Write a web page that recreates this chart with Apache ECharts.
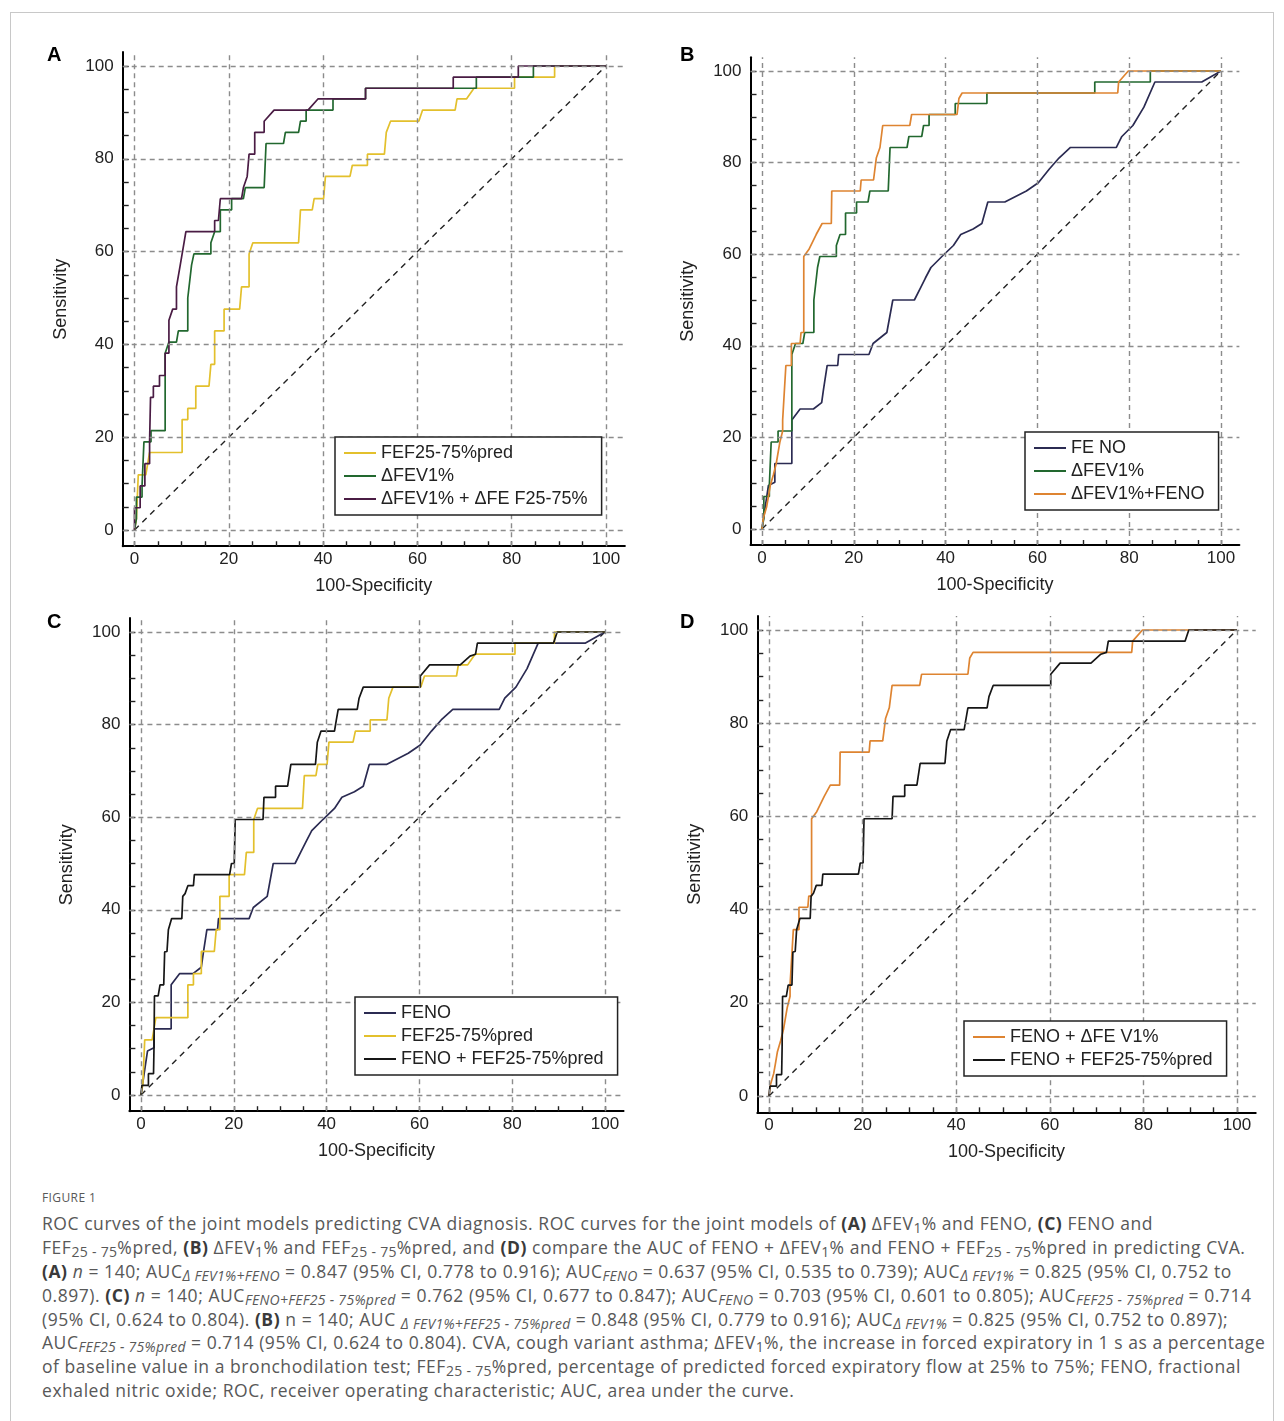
<!DOCTYPE html>
<html>
<head>
<meta charset="utf-8">
<script src="https://cdn.jsdelivr.net/npm/echarts@6/dist/echarts.min.js"></script>
<style>
  html, body { margin: 0; padding: 0; background: #fff; }
  body { width: 1284px; height: 1421px; position: relative; overflow: hidden; }
  #frame { position: absolute; left: 10px; top: 12px; width: 1262px; height: 1500px; border: 1px solid #c8c8c8; }
  #chart { position: absolute; left: 0; top: 0; width: 1284px; height: 1180px; }
  #caption { position: absolute; left: 42px; top: 1187px; font-family: "Open Sans", "Noto Sans", sans-serif; color: #585858; }
  #caption .fig { font-size: 12px; letter-spacing: 0.4px; height: 25px; line-height: 22px; }
  #caption .ln { font-size: 17.5px; letter-spacing: 0.55px; line-height: 23.9px; height: 23.9px; white-space: nowrap; }
  #caption b { color: #3a3a3a; font-weight: 700; }
  #caption sub { font-size: 14px; letter-spacing: 0.3px; line-height: 0; vertical-align: -3px; }
</style>
</head>
<body>
<div id="frame"></div>
<div id="chart"></div>
<div id="caption">
  <div class="fig">FIGURE 1</div>
  <div class="ln">ROC curves of the joint models predicting CVA diagnosis. ROC curves for the joint models of <b>(A)</b> ΔFEV<sub>1</sub>% and FENO, <b>(C)</b> FENO and</div>
  <div class="ln">FEF<sub>25 - 75</sub>%pred, <b>(B)</b> ΔFEV<sub>1</sub>% and FEF<sub>25 - 75</sub>%pred, and <b>(D)</b> compare the AUC of FENO + ΔFEV<sub>1</sub>% and FENO + FEF<sub>25 - 75</sub>%pred in predicting CVA.</div>
  <div class="ln"><b>(A)</b> <i>n</i> = 140; AUC<sub><i>Δ FEV1%+FENO</i></sub> = 0.847 (95% CI, 0.778 to 0.916); AUC<sub><i>FENO</i></sub> = 0.637 (95% CI, 0.535 to 0.739); AUC<sub><i>Δ FEV1%</i></sub> = 0.825 (95% CI, 0.752 to</div>
  <div class="ln">0.897). <b>(C)</b> <i>n</i> = 140; AUC<sub><i>FENO+FEF25 - 75%pred</i></sub> = 0.762 (95% CI, 0.677 to 0.847); AUC<sub><i>FENO</i></sub> = 0.703 (95% CI, 0.601 to 0.805); AUC<sub><i>FEF25 - 75%pred</i></sub> = 0.714</div>
  <div class="ln">(95% CI, 0.624 to 0.804). <b>(B)</b> n = 140; AUC <sub><i>Δ FEV1%+FEF25 - 75%pred</i></sub> = 0.848 (95% CI, 0.779 to 0.916); AUC<sub><i>Δ FEV1%</i></sub> = 0.825 (95% CI, 0.752 to 0.897);</div>
  <div class="ln">AUC<sub><i>FEF25 - 75%pred</i></sub> = 0.714 (95% CI, 0.624 to 0.804). CVA, cough variant asthma; ΔFEV<sub>1</sub>%, the increase in forced expiratory in 1 s as a percentage</div>
  <div class="ln">of baseline value in a bronchodilation test; FEF<sub>25 - 75</sub>%pred, percentage of predicted forced expiratory flow at 25% to 75%; FENO, fractional</div>
  <div class="ln">exhaled nitric oxide; ROC, receiver operating characteristic; AUC, area under the curve.</div>
</div>
<script>
// axis values
var labelValues = [0, 20, 40, 60, 80, 100];
var tickValues = [0, 5, 10, 15, 20, 25, 30, 35, 40, 45, 50, 55, 60, 65, 70, 75, 80, 85, 90, 95, 100];
var diagonal = [[0, 0], [100, 100]];

// ROC curves, [100-specificity, sensitivity]
var fefPred = [[0,0],[0.4,2.4],[0.8,11.9],[2.4,11.9],[3.2,16.7],[10.1,16.7],[10.1,23.8],[11.3,23.8],[11.3,26.2],[13,26.2],[13,31],[15.8,31],[16.2,35.7],[17,35.7],[17,42.9],[19,42.9],[19,47.6],[22.3,47.6],[22.7,52.4],[24.3,52.4],[24.3,59.5],[25.1,61.9],[34.8,61.9],[35.2,69],[37.7,69],[38.1,71.4],[40.1,71.4],[40.5,76.2],[45.7,76.2],[46.2,78.6],[49.4,78.6],[49.4,81],[53,81],[53.4,85.7],[54.3,88.1],[60.3,88.1],[61.1,90.5],[68,90.5],[68.4,92.9],[70.4,92.9],[72,95.2],[80.6,95.2],[80.6,97.6],[89.1,97.6],[89.1,100],[100,100]];
var deltaFev1 = [[0,0],[0.4,2.4],[0.4,7.1],[1.6,7.1],[1.6,9.5],[2,9.5],[2,19],[3.5,19],[3.5,21.4],[6.5,21.4],[6.5,38.1],[7.3,40.5],[8.9,40.5],[9.3,42.9],[11.3,42.9],[11.3,50],[12.1,57.1],[12.6,59.5],[16.2,59.5],[16.2,61.9],[17,64.3],[18.2,64.3],[18.2,69],[20.6,69],[20.6,71.4],[23.1,71.4],[23.5,73.8],[27.5,73.8],[27.9,83.3],[31.6,83.3],[32,85.7],[34.8,85.7],[35.2,88.1],[36.4,88.1],[36.4,90.5],[42.1,90.5],[42.1,92.9],[49,92.9],[49,95.2],[72.5,95.2],[72.5,97.6],[84.6,97.6],[84.6,100],[100,100]];
var fev1PlusFef = [[0,0],[0,4.8],[1.2,4.8],[1.2,9.5],[2.2,9.5],[2.2,14.3],[3.2,14.3],[3.2,19],[3.4,28.6],[4,28.6],[4,31],[5.3,31],[5.3,33.3],[6.5,33.3],[6.5,38.1],[7.3,38.1],[7.3,45.2],[8.1,47.6],[8.9,47.6],[8.9,52.4],[9.7,57.1],[10.5,61.9],[10.9,64.3],[17,64.3],[17,66.7],[17.8,66.7],[18.2,71.4],[22.7,71.4],[23.1,73.8],[23.9,76.2],[24.3,81],[25.5,81],[25.5,85.7],[27.5,85.7],[27.5,88.1],[29.6,90.5],[36.8,90.5],[38.9,92.9],[49,92.9],[49,95.2],[67.6,95.2],[67.6,97.6],[81.4,97.6],[81.4,100],[100,100]];
var feno = [[0,0],[0.7,4.8],[1.4,9.5],[2.8,10.2],[2.8,14.3],[6.5,14.3],[6.5,23.8],[8.3,26.2],[11.2,26.2],[13,27.6],[13.4,30.5],[14.2,35.7],[16.5,35.7],[16.7,38.1],[23.3,38.1],[24.2,40.5],[27.2,42.9],[28.5,50],[33.2,50],[34.4,52.4],[35.6,54.8],[36.8,57.1],[39.2,59.5],[41.7,61.9],[43.3,64.3],[46,65.5],[47.9,66.7],[49.2,71.4],[52.9,71.4],[57.6,73.8],[60.2,75.6],[62.6,78.6],[64.7,81],[67.2,83.3],[77.2,83.3],[78.4,85.7],[80.8,88.1],[83.2,92.1],[85.6,97.6],[95.8,97.6],[100,100]];
var fenoPlusFev1 = [[0,0],[0.3,2.4],[1,4.8],[1.4,7.1],[1.8,9.5],[2.5,11.9],[3.1,14.3],[3.9,19],[4.5,21.4],[4.5,23.8],[5.2,35.7],[6.4,35.7],[6.4,40.5],[8.3,40.5],[8.5,42.9],[9.1,42.9],[9.1,59.5],[10.2,61],[11.8,64.3],[13.1,66.7],[15.1,66.7],[15.2,73.8],[21.4,73.8],[21.6,76.2],[24.3,76.2],[24.9,81],[25.7,83.3],[26.3,88.1],[32.2,88.1],[32.6,90.5],[42.5,90.5],[42.9,94],[43.6,95.2],[77.5,95.2],[77.7,97.6],[79.8,100],[100,100]];
var fenoPlusFef = [[0,0],[0.2,2.1],[1.6,2.1],[1.6,4.6],[2.7,4.6],[2.8,10.2],[2.9,21.4],[3.7,21.4],[4.1,23.8],[4.9,23.8],[5.1,30.9],[5.6,31],[5.9,35.7],[6.6,38.1],[8.8,38.1],[9,42.9],[9.5,43.5],[10.1,45.2],[11.3,45.2],[11.5,47.6],[19.1,47.6],[19.5,50],[20.1,50],[20.3,59.5],[26.3,59.5],[26.5,64.3],[29,64.3],[29,66.7],[31.6,66.7],[32.3,71.4],[37.6,71.4],[38,76.2],[38.8,78.6],[41.7,78.6],[42.1,81],[42.5,83.3],[46.6,83.3],[47,85.7],[47.9,88.1],[60.2,88.1],[60.2,90.5],[62.2,92.9],[68.8,92.9],[70.9,94.8],[72.1,95.2],[72.5,97.6],[88.9,97.6],[89.7,100],[100,100]];

var YELLOW = '#e3c02c', GREEN = '#22682f', PURPLE = '#4a1c44', NAVY = '#2b2b52', ORANGE = '#de8431', BLACK = '#161616';
var FONT = '"Liberation Sans", Arial, sans-serif';

var X_MIN = -2.5, X_MAX = 104, Y_MIN = -3.5, Y_MAX = 103;

// pixel positions of 0 and 100 on each panel, legend box corner
var panels = [
  { letter: 'A', x0: 134.5, x100: 606, y0: 530, y100: 66, legend: [335, 437],
    curves: [['FEF25-75%pred', fefPred, YELLOW], ['ΔFEV1%', deltaFev1, GREEN], ['ΔFEV1% + ΔFE F25-75%', fev1PlusFef, PURPLE]] },
  { letter: 'B', x0: 762, x100: 1221, y0: 529, y100: 71, legend: [1025, 432],
    curves: [['FE NO', feno, NAVY], ['ΔFEV1%', deltaFev1, GREEN], ['ΔFEV1%+FENO', fenoPlusFev1, ORANGE]] },
  { letter: 'C', x0: 141, x100: 605, y0: 1095, y100: 632, legend: [355, 997],
    curves: [['FENO', feno, NAVY], ['FEF25-75%pred', fefPred, YELLOW], ['FENO + FEF25-75%pred', fenoPlusFef, BLACK]] },
  { letter: 'D', x0: 769, x100: 1237, y0: 1096, y100: 630, legend: [964, 1021],
    curves: [['FENO + ΔFE V1%', fenoPlusFev1, ORANGE], ['FENO + FEF25-75%pred', fenoPlusFef, BLACK]] }
];

var chart = echarts.init(document.getElementById('chart'));
var grids = [], xAxes = [], yAxes = [], series = [], legends = [], graphics = [];

panels.forEach(function (p, i) {
  var sx = (p.x100 - p.x0) / 100;
  var sy = (p.y0 - p.y100) / 100;
  grids.push({
    left: p.x0 + X_MIN * sx,
    width: (X_MAX - X_MIN) * sx,
    top: p.y100 - (Y_MAX - 100) * sy,
    height: (Y_MAX - Y_MIN) * sy
  });
  xAxes.push({
    gridIndex: i, type: 'value', min: X_MIN, max: X_MAX,
    name: '100-Specificity', nameLocation: 'middle', nameGap: 31,
    nameTextStyle: { fontSize: 18, color: '#222', fontFamily: FONT },
    axisLine: { show: true, onZero: false, lineStyle: { color: '#000', width: 2 } },
    axisTick: { show: true, inside: true, length: 5, customValues: tickValues, lineStyle: { color: '#222', width: 1.4 } },
    axisLabel: { customValues: labelValues, margin: 5, fontSize: 17, color: '#222', fontFamily: FONT },
    splitLine: { show: false }
  });
  yAxes.push({
    gridIndex: i, type: 'value', min: Y_MIN, max: Y_MAX,
    name: 'Sensitivity', nameLocation: 'middle', nameGap: 53,
    nameTextStyle: { fontSize: 18, color: '#222', fontFamily: FONT },
    axisLine: { show: true, onZero: false, lineStyle: { color: '#000', width: 2 } },
    axisTick: { show: true, inside: true, length: 6, customValues: tickValues, lineStyle: { color: '#222', width: 1.4 } },
    axisLabel: { customValues: labelValues, margin: 9, fontSize: 17, color: '#222', fontFamily: FONT },
    splitLine: { show: false }
  });

  // reference diagonal, carrying the dashed grid lines
  var gridLines = [];
  labelValues.forEach(function (v) {
    gridLines.push({ xAxis: v });
    gridLines.push({ yAxis: v });
  });
  series.push({
    type: 'line', xAxisIndex: i, yAxisIndex: i, data: diagonal, z: 1,
    symbol: 'none', silent: true,
    lineStyle: { color: '#222', width: 1.4, type: [6, 5] },
    markLine: {
      silent: true, symbol: ['none', 'none'], label: { show: false },
      lineStyle: { color: '#8c8c8c', width: 1.4, type: [5, 4] },
      emphasis: { disabled: true },
      data: gridLines
    }
  });

  p.curves.forEach(function (c) {
    series.push({
      name: c[0], type: 'line', xAxisIndex: i, yAxisIndex: i, data: c[1], z: 3,
      symbol: 'none', showSymbol: false, color: c[2],
      lineStyle: { color: c[2], width: 1.7 }
    });
  });

  legends.push({
    orient: 'vertical', left: p.legend[0], top: p.legend[1], z: 20,
    data: p.curves.map(function (c) { return c[0]; }),
    icon: 'rect', itemWidth: 32, itemHeight: 2, itemGap: 3,
    padding: [6, 14, 6, 9],
    borderColor: '#222', borderWidth: 1.5, backgroundColor: '#fff',
    selectedMode: false,
    textStyle: { fontSize: 18, color: '#222', fontFamily: FONT, lineHeight: 20 }
  });

  graphics.push({
    type: 'text', left: p.letter === 'A' || p.letter === 'C' ? 47 : 680,
    top: i < 2 ? 45 : 612,
    style: { text: p.letter, font: 'bold 20px ' + FONT, fill: '#000' }
  });
});

chart.setOption({
  animation: false,
  grid: grids,
  xAxis: xAxes,
  yAxis: yAxes,
  legend: legends,
  graphic: graphics,
  series: series
});
</script>
</body>
</html>
